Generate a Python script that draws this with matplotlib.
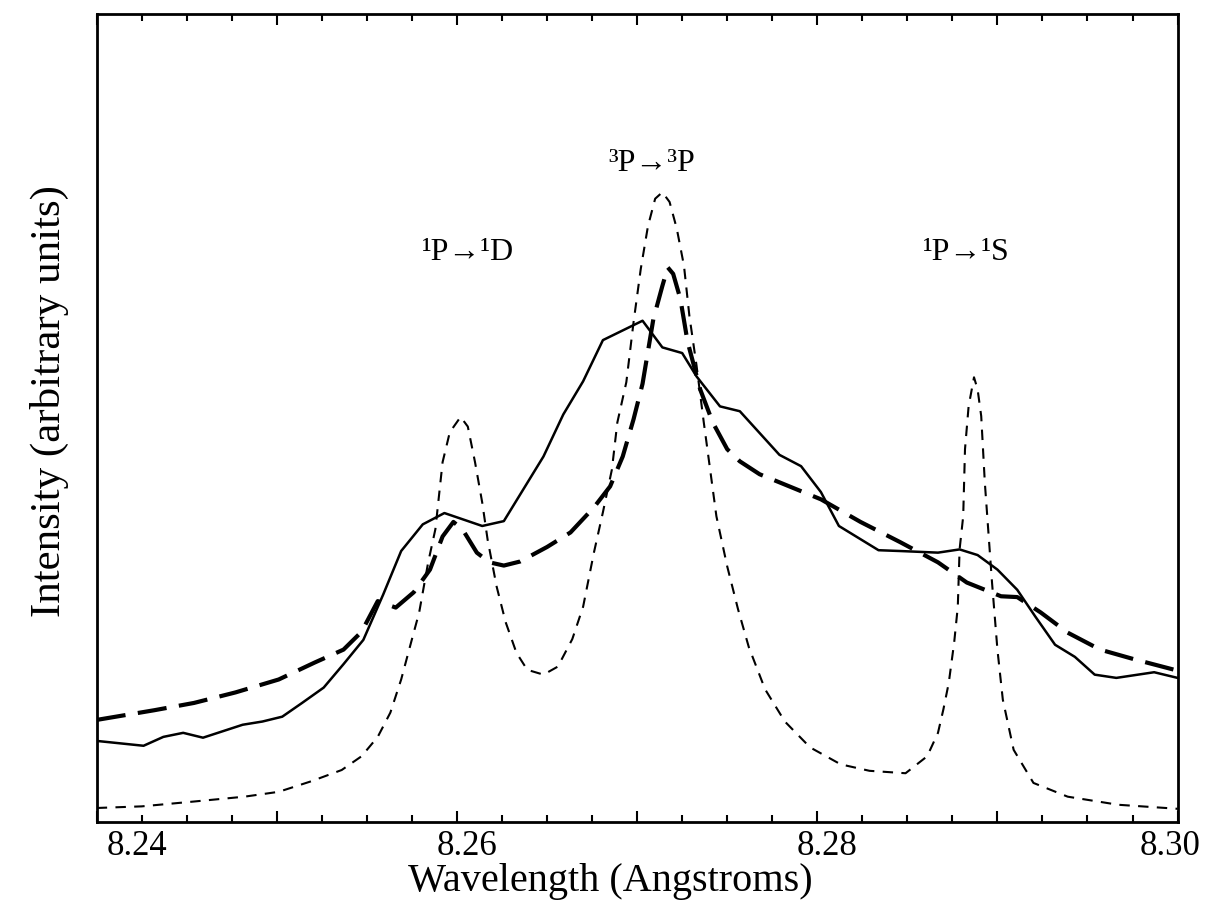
import matplotlib
matplotlib.use("Agg")
import matplotlib.pyplot as plt
from matplotlib.ticker import MultipleLocator
import matplotlib.transforms as mtransforms

plt.rcParams['font.family'] = ['Liberation Serif', 'DejaVu Serif']

# measured spectrum (solid)
meas_x = [8.2400, 8.2426, 8.2437, 8.2448, 8.2459, 8.2470, 8.2481, 8.2492, 8.2503,
          8.2514, 8.2526, 8.2537, 8.2548, 8.2559, 8.2569, 8.2581, 8.2593, 8.2614,
          8.2626, 8.2648, 8.2659, 8.2670, 8.2681, 8.2703, 8.2714, 8.2725, 8.2733,
          8.2746, 8.2757, 8.2779, 8.2791, 8.2802, 8.2812, 8.2834, 8.2846, 8.2867,
          8.2879, 8.2889, 8.2900, 8.2911, 8.2921, 8.2932, 8.2943, 8.2954, 8.2966,
          8.2987, 8.3000]
meas_y = [10.0, 9.4, 10.5, 11.0, 10.4, 11.2, 12.0, 12.4, 13.0,
          14.7, 16.6, 19.5, 22.5, 28.1, 33.5, 36.8, 38.2, 36.6,
          37.2, 45.2, 50.4, 54.5, 59.6, 62.0, 58.7, 58.0, 55.1,
          51.4, 50.8, 45.4, 44.0, 40.8, 36.6, 33.6, 33.5, 33.3,
          33.7, 33.0, 31.2, 28.7, 25.4, 21.9, 20.4, 18.2, 17.8,
          18.5, 17.8]

# broadened model (long dashes)
broad_x = [8.2400, 8.2432, 8.2454, 8.2477, 8.2501, 8.2521, 8.2537, 8.2547, 8.2556,
           8.2566, 8.2576, 8.2585, 8.2592, 8.2598, 8.2603, 8.2611, 8.2618, 8.2626,
           8.2635, 8.2650, 8.2663, 8.2676, 8.2685, 8.2692, 8.2698, 8.2703, 8.2709,
           8.2714, 8.2717, 8.2720, 8.2724, 8.2728, 8.2735, 8.2742, 8.2750, 8.2757,
           8.2768, 8.2779, 8.2802, 8.2824, 8.2846, 8.2867, 8.2883, 8.2902, 8.2911,
           8.2924, 8.2939, 8.2957, 8.2976, 8.3000]
broad_y = [12.6, 13.8, 14.7, 16.0, 17.6, 19.7, 21.3, 23.5, 27.3,
           26.5, 28.4, 31.2, 35.3, 37.1, 36.2, 33.3, 32.1, 31.7,
           32.2, 34.0, 35.8, 38.9, 41.5, 45.2, 49.8, 54.2, 62.2,
           66.3, 68.6, 67.8, 64.7, 59.4, 53.5, 49.4, 46.1, 44.6,
           43.0, 42.0, 39.9, 37.1, 34.6, 32.1, 29.6, 27.9, 27.8,
           25.9, 23.4, 21.3, 20.1, 18.7]

# unbroadened lines (short dashes)
line_x = [8.2400, 8.2425, 8.2454, 8.2482, 8.2501, 8.2519, 8.2536, 8.2547, 8.2556,
          8.2563, 8.2569, 8.2575, 8.2579, 8.2584, 8.2588, 8.2592, 8.2596, 8.2602,
          8.2606, 8.2610, 8.2614, 8.2617, 8.2622, 8.2627, 8.2633, 8.2639, 8.2648,
          8.2656, 8.2664, 8.2670, 8.2676, 8.2681, 8.2686, 8.2689, 8.2694, 8.2698,
          8.2702, 8.2706, 8.2710, 8.2714, 8.2718, 8.2722, 8.2726, 8.2729, 8.2733,
          8.2737, 8.2739, 8.2744, 8.2750, 8.2756, 8.2762, 8.2771, 8.2782, 8.2796,
          8.2813, 8.2829, 8.2849, 8.2861, 8.2867, 8.2870, 8.2873, 8.2876, 8.2878,
          8.2879, 8.2881, 8.2882, 8.2884, 8.2887, 8.2889, 8.2891, 8.2893, 8.2895,
          8.2897, 8.2900, 8.2903, 8.2909, 8.2920, 8.2939, 8.2967, 8.3000]
line_y = [1.7, 1.9, 2.5, 3.1, 3.7, 5.0, 6.4, 8.1, 10.5,
          13.5, 17.6, 22.6, 25.9, 32.1, 36.2, 44.5, 48.2, 50.1,
          48.9, 44.5, 39.5, 34.9, 29.1, 24.7, 20.9, 18.8, 18.2,
          19.2, 22.6, 26.6, 33.3, 38.3, 43.6, 49.4, 54.4, 61.8,
          68.4, 73.7, 77.1, 77.9, 76.7, 73.4, 68.8, 62.6, 56.4,
          49.4, 46.1, 37.8, 31.6, 26.3, 21.6, 16.4, 12.4, 9.2,
          7.1, 6.3, 6.0, 8.1, 11.0, 13.9, 17.2, 22.2, 26.6,
          33.7, 37.8, 46.1, 51.4, 55.0, 53.5, 50.2, 42.0, 35.8,
          29.6, 21.3, 15.1, 8.9, 4.8, 3.1, 2.1, 1.6]

labels = ['\u00b9P\u2192\u00b9D', '\u00b3P\u2192\u00b3P', '\u00b9P\u2192\u00b9S']
label_x = [8.2606, 8.2708, 8.2883]
label_y = [70.5, 81.5, 70.5]

fig = plt.figure(figsize=(12.09, 9.11), dpi=100)
ax = fig.add_axes([0.080, 0.098, 0.894, 0.887])

ax.plot(meas_x, meas_y, color='black', lw=1.8, ls='-')
ax.plot(broad_x, broad_y, color='black', lw=3.0, ls=(0, (7, 3)))
ax.plot(line_x, line_y, color='black', lw=1.5, ls=(0, (5, 4)))

for t, x, y in zip(labels, label_x, label_y):
    ax.text(x, y, t, ha='center', va='center', fontsize=23)

ax.set_xlim(8.24, 8.30)
ax.set_ylim(0, 100)
ax.set_yticks([])
ax.xaxis.set_minor_locator(MultipleLocator(0.0025))
ax.set_xticks([8.24, 8.25, 8.26, 8.27, 8.28, 8.29, 8.30])
ax.set_xticklabels(['8.24', '', '8.26', '', '8.28', '', '8.30'])
ax.tick_params(axis='x', which='both', direction='in', top=True, bottom=True,
               width=1.5, labelsize=25, pad=6)
ax.tick_params(axis='x', which='major', length=8)
ax.tick_params(axis='x', which='minor', length=5)
for s in ax.spines.values():
    s.set_linewidth(2.0)

# shift the tick labels a little as in the original
offset = mtransforms.ScaledTranslation(10 / 100, 0, fig.dpi_scale_trans)
ticklabs = ax.get_xticklabels()
for lab in ticklabs[:-1]:
    lab.set_transform(lab.get_transform() + offset)
ticklabs[0].set_ha('left')
ticklabs[-1].set_transform(ticklabs[-1].get_transform()
                           + mtransforms.ScaledTranslation(-8 / 100, 0, fig.dpi_scale_trans))

ax.set_xlabel('Wavelength (Angstroms)', fontsize=29, labelpad=0)
ax.xaxis.label.set_x(0.475)
ax.set_ylabel('Intensity (arbitrary units)', fontsize=31, labelpad=20)
ax.yaxis.label.set_y(0.52)

fig.savefig('out.png', dpi=100)
